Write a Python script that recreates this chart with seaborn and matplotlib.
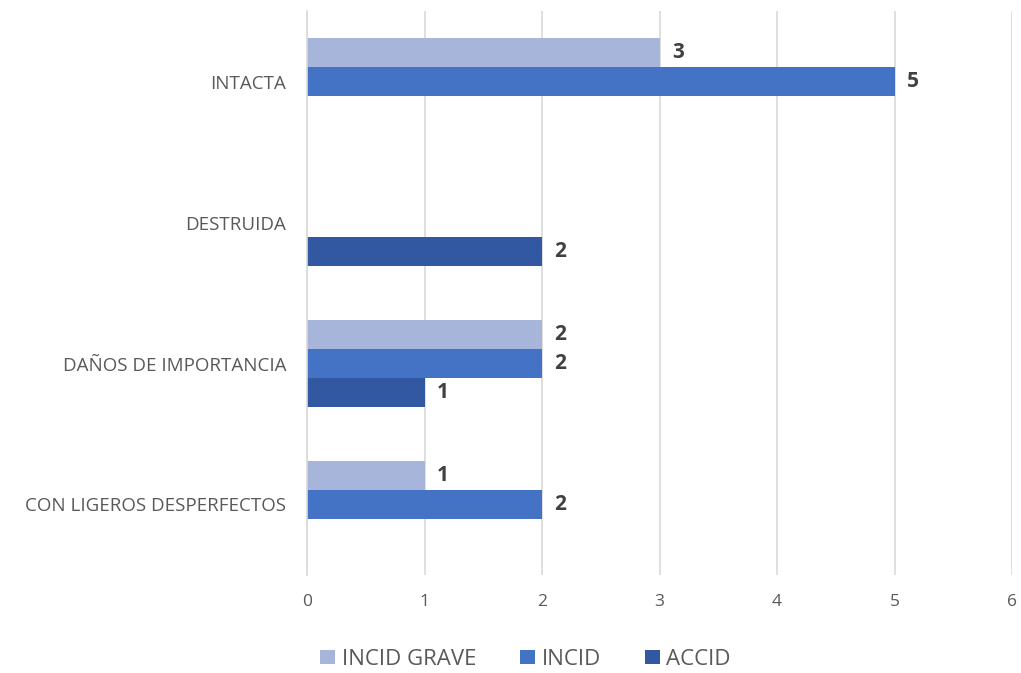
import numpy as np
import pandas as pd
import matplotlib
matplotlib.use("Agg")
import matplotlib.pyplot as plt
import seaborn as sns

categories = ["INTACTA", "DESTRUIDA", "DAÑOS DE IMPORTANCIA", "CON LIGEROS DESPERFECTOS"]
series = ["INCID GRAVE", "INCID", "ACCID"]
incid_grave = [3, np.nan, 2, 1]
incid = [5, np.nan, 2, 2]
accid = [np.nan, 2, 1, np.nan]
colors = ["#A7B5DA", "#4472C4", "#3258A2"]

rows = []
for name, vals in zip(series, [incid_grave, incid, accid]):
    for cat, v in zip(categories, vals):
        rows.append({"cat": cat, "serie": name, "valor": v})
df = pd.DataFrame(rows)

sns.set_theme(style="white")
plt.rcParams["font.family"] = ["Open Sans", "DejaVu Sans"]

fig = plt.figure(figsize=(10.21, 6.73), dpi=100)
ax = fig.add_axes([0.3007, 0.146, 0.6905, 0.837])

sns.barplot(data=df, y="cat", x="valor", hue="serie", order=categories,
            hue_order=series, palette=colors, orient="h", width=0.62,
            saturation=1, errorbar=None, ax=ax, legend=True, linewidth=0)

for cont in ax.containers:
    labels = ["" if (np.isnan(w) or w == 0) else f"{int(w)}"
              for w in cont.datavalues]
    ax.bar_label(cont, labels=labels, padding=9, fontsize=15,
                 fontweight="bold", color="#404040")

ax.set_xlim(0, 6)
ax.set_ylim(3.5, -0.5)
ax.set_xticks(range(0, 7))
ax.xaxis.grid(True, color="#D9D9D9", linewidth=1.2)
ax.set_axisbelow(True)
for s in ["top", "right", "bottom"]:
    ax.spines[s].set_visible(False)
ax.spines["left"].set_color("#D9D9D9")
ax.spines["left"].set_linewidth(1.2)
ax.tick_params(axis="both", length=0, colors="#595959")
ax.tick_params(axis="y", pad=15, labelsize=13.5)
ax.tick_params(axis="x", pad=14, labelsize=12.5)
ax.set_xlabel("")
ax.set_ylabel("")

handles, labs = ax.get_legend_handles_labels()
ax.legend(handles, labs, loc="upper center", bbox_to_anchor=(0.31, -0.096),
          ncol=3, frameon=False, fontsize=16, labelcolor="#595959",
          handlelength=0.65, handleheight=0.65, handletextpad=0.3,
          columnspacing=2.0)

fig.savefig("out.png", dpi=100)
